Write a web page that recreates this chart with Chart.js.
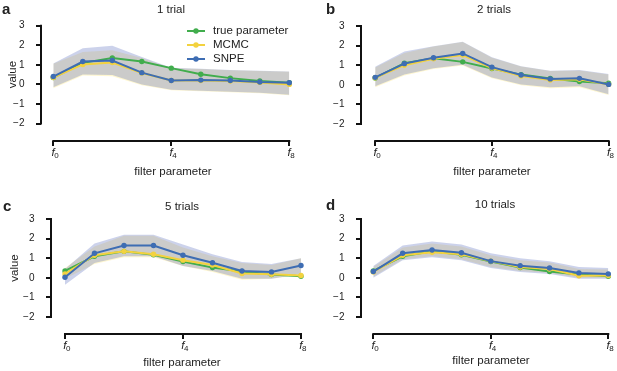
<!DOCTYPE html>
<html>
<head>
<meta charset="utf-8">
<script src="https://cdn.jsdelivr.net/npm/chart.js@4.4.0/dist/chart.umd.min.js"></script>
<style>
  html, body { margin: 0; padding: 0; background: #fff; }
  #wrap { position: relative; width: 617px; height: 371px; overflow: hidden; }
  #wrap canvas { position: absolute; left: 0; top: 0; }
</style>
</head>
<body>
<div id="wrap">
  <canvas id="panelA" width="617" height="371"></canvas>
  <canvas id="panelB" width="617" height="371"></canvas>
  <canvas id="panelC" width="617" height="371"></canvas>
  <canvas id="panelD" width="617" height="371"></canvas>
</div>
<script>
// filter parameter index f0..f8
const filterSteps = [0, 1, 2, 3, 4, 5, 6, 7, 8];
const xTickSteps = [0, 4, 8];
const yTickValues = [-2, -1, 0, 1, 2, 3];
const seriesLabels = ['true parameter', 'MCMC', 'SNPE'];

const trueParameter = [0.35, 1.1, 1.35, 1.17, 0.83, 0.52, 0.32, 0.17, 0.08];

// 1 trial
const mcmc1 = [0.35, 1.02, 1.12, 0.58, 0.2, 0.2, 0.17, 0.1, 0.0];
const snpe1 = [0.4, 1.17, 1.22, 0.6, 0.2, 0.22, 0.2, 0.12, 0.08];
const mcmcLow1 = [-0.2, 0.45, 0.42, -0.05, -0.3, -0.35, -0.4, -0.45, -0.55];
const mcmcHigh1 = [1.05, 1.65, 1.75, 1.35, 0.82, 0.78, 0.72, 0.68, 0.65];
const snpeLow1 = [-0.15, 0.5, 0.48, 0.0, -0.28, -0.33, -0.38, -0.43, -0.53];
const snpeHigh1 = [1.07, 1.85, 1.97, 1.4, 0.85, 0.8, 0.74, 0.7, 0.66];

// 2 trials
const mcmc2 = [0.36, 1.0, 1.33, 1.52, 0.86, 0.45, 0.24, 0.28, 0.02];
const snpe2 = [0.38, 1.08, 1.38, 1.6, 0.9, 0.5, 0.3, 0.33, 0.02];
const mcmcLow2 = [-0.12, 0.48, 0.8, 0.98, 0.33, -0.02, -0.17, -0.12, -0.52];
const mcmcHigh2 = [0.88, 1.62, 1.95, 2.18, 1.38, 0.93, 0.7, 0.73, 0.52];
const snpeLow2 = [-0.08, 0.52, 0.85, 1.02, 0.37, 0.02, -0.12, -0.08, -0.48];
const snpeHigh2 = [0.92, 1.7, 1.97, 2.2, 1.4, 0.95, 0.72, 0.75, 0.55];

// 5 trials
const mcmc5 = [0.2, 1.15, 1.35, 1.2, 0.9, 0.65, 0.22, 0.18, 0.12];
const snpe5 = [0.03, 1.25, 1.65, 1.65, 1.15, 0.77, 0.35, 0.3, 0.63];
const mcmcLow5 = [-0.05, 0.7, 1.05, 1.05, 0.6, 0.3, -0.1, -0.05, 0.15];
const mcmcHigh5 = [0.5, 1.6, 2.15, 2.15, 1.55, 1.1, 0.75, 0.65, 1.0];
const snpeLow5 = [-0.35, 0.75, 1.1, 1.1, 0.6, 0.35, -0.05, -0.05, 0.2];
const snpeHigh5 = [0.45, 1.75, 2.2, 2.2, 1.7, 1.2, 0.8, 0.7, 1.0];

// 10 trials
const mcmc10 = [0.3, 1.15, 1.3, 1.2, 0.85, 0.55, 0.45, 0.1, 0.12];
const snpe10 = [0.32, 1.25, 1.42, 1.28, 0.85, 0.62, 0.5, 0.25, 0.2];
const mcmcLow10 = [0.05, 0.95, 1.1, 0.95, 0.55, 0.35, 0.25, 0.0, 0.0];
const mcmcHigh10 = [0.55, 1.55, 1.75, 1.6, 1.15, 0.9, 0.78, 0.45, 0.42];
const snpeLow10 = [0.0, 0.9, 1.05, 0.9, 0.5, 0.3, 0.2, -0.05, -0.05];
const snpeHigh10 = [0.6, 1.65, 1.85, 1.7, 1.25, 1.0, 0.85, 0.55, 0.5];

const GREEN = '#41ad4d';
const YELLOW = '#f3d23f';
const BLUE = '#3e6db3';
const MCMC_BAND = 'rgba(250, 215, 40, 0.22)';
const SNPE_BAND = 'rgba(85, 105, 190, 0.3)';
const TEXT = '#222';
const FONT = '"Liberation Sans", Arial, sans-serif';

const Y_SCALE_W = 30;
const X_SCALE_H = 20;

function toXY(arr) {
    return arr.map((v, i) => ({ x: filterSteps[i], y: v }));
}

function lineSet(label, values, color, order) {
    return {
        label: label,
        data: toXY(values),
        borderColor: color,
        backgroundColor: color,
        borderWidth: 2,
        pointRadius: 2.7,
        pointBorderWidth: 0,
        pointBackgroundColor: color,
        fill: false,
        tension: 0,
        order: order
    };
}

function bandSets(low, high, color, order) {
    return [
        { label: '', band: true, data: toXY(high), fill: '+1', backgroundColor: color,
          borderWidth: 0, pointRadius: 0, tension: 0, order: order },
        { label: '', band: true, data: toXY(low), fill: false, borderWidth: 0,
          pointRadius: 0, tension: 0, order: order }
    ];
}

// draws spines, tick marks, x tick labels, titles and the legend
const decorPlugin = {
    id: 'decor',
    afterDraw(chart, args, opts) {
        const { ctx, chartArea } = chart;
        const x = chart.scales.x, y = chart.scales.y;
        const left = Math.round(chartArea.left);
        const bottom = Math.round(chartArea.bottom);
        ctx.save();
        ctx.strokeStyle = '#111';
        ctx.lineWidth = 2;
        ctx.beginPath();
        ctx.moveTo(left, y.getPixelForValue(-2) + 1);
        ctx.lineTo(left, y.getPixelForValue(3) - 1);
        yTickValues.forEach(v => {
            const py = Math.round(y.getPixelForValue(v));
            ctx.moveTo(left - 5, py);
            ctx.lineTo(left, py);
        });
        ctx.moveTo(x.getPixelForValue(0) - 1, bottom);
        ctx.lineTo(x.getPixelForValue(8) + 1, bottom);
        xTickSteps.forEach(v => {
            const px = Math.round(x.getPixelForValue(v));
            ctx.moveTo(px, bottom);
            ctx.lineTo(px, bottom + 5);
        });
        ctx.stroke();

        ctx.fillStyle = TEXT;
        ctx.textBaseline = 'middle';
        xTickSteps.forEach(v => {
            const px = x.getPixelForValue(v);
            ctx.font = 'italic 11.5px ' + FONT;
            ctx.textAlign = 'right';
            ctx.fillText('f', px + 1.5, bottom + 12);
            ctx.font = '8px ' + FONT;
            ctx.textAlign = 'left';
            ctx.fillText(String(v), px + 1, bottom + 15);
        });

        ctx.textAlign = 'center';
        ctx.font = '11.5px ' + FONT;
        ctx.fillText(opts.title, opts.titleX, opts.titleY);
        ctx.fillText('filter parameter', opts.xlabelX, opts.xlabelY);

        if (opts.valueX) {
            ctx.save();
            ctx.translate(opts.valueX, (y.getPixelForValue(-2) + y.getPixelForValue(3)) / 2);
            ctx.rotate(-Math.PI / 2);
            ctx.fillText('value', 0, 0);
            ctx.restore();
        }

        ctx.font = 'bold 15px ' + FONT;
        ctx.textAlign = 'left';
        ctx.fillText(opts.letter, opts.letterX, opts.letterY);

        if (opts.legend) {
            const items = chart.data.datasets.filter(d => !d.band);
            items.sort((a, b) => seriesLabels.indexOf(a.label) - seriesLabels.indexOf(b.label));
            items.forEach((d, i) => {
                const ly = opts.legend.y + i * opts.legend.gap;
                ctx.strokeStyle = d.borderColor;
                ctx.lineWidth = 2;
                ctx.beginPath();
                ctx.moveTo(opts.legend.x, ly);
                ctx.lineTo(opts.legend.x + 18, ly);
                ctx.stroke();
                ctx.fillStyle = d.borderColor;
                ctx.beginPath();
                ctx.arc(opts.legend.x + 9, ly, 2.7, 0, Math.PI * 2);
                ctx.fill();
                ctx.fillStyle = TEXT;
                ctx.font = '11.5px ' + FONT;
                ctx.fillText(d.label, opts.legend.x + 26, ly);
            });
        }
        ctx.restore();
    }
};

const panels = [
    { id: 'panelA', title: '1 trial', letter: 'a', mcmc: mcmc1, snpe: snpe1,
      mcmcLow: mcmcLow1, mcmcHigh: mcmcHigh1, snpeLow: snpeLow1, snpeHigh: snpeHigh1,
      spineX: 40.5, f0: 53.3, f8: 289.3, y3: 25.7, ym2: 123.5, spineY: 140.5,
      titleX: 171, titleY: 10, xlabelX: 173, xlabelY: 172, valueX: 13,
      letterX: 2, letterY: 10, legend: { x: 187, y: 31, gap: 14 } },
    { id: 'panelB', title: '2 trials', letter: 'b', mcmc: mcmc2, snpe: snpe2,
      mcmcLow: mcmcLow2, mcmcHigh: mcmcHigh2, snpeLow: snpeLow2, snpeHigh: snpeHigh2,
      spineX: 360.5, f0: 375.3, f8: 610.7, y3: 26, ym2: 124, spineY: 140.5,
      titleX: 494, titleY: 10, xlabelX: 492, xlabelY: 172, valueX: 0,
      letterX: 326, letterY: 10, legend: null },
    { id: 'panelC', title: '5 trials', letter: 'c', mcmc: mcmc5, snpe: snpe5,
      mcmcLow: mcmcLow5, mcmcHigh: mcmcHigh5, snpeLow: snpeLow5, snpeHigh: snpeHigh5,
      spineX: 50.5, f0: 65, f8: 301, y3: 219, ym2: 317, spineY: 333.5,
      titleX: 182, titleY: 207, xlabelX: 182, xlabelY: 363, valueX: 15,
      letterX: 3, letterY: 207, legend: null },
    { id: 'panelD', title: '10 trials', letter: 'd', mcmc: mcmc10, snpe: snpe10,
      mcmcLow: mcmcLow10, mcmcHigh: mcmcHigh10, snpeLow: snpeLow10, snpeHigh: snpeHigh10,
      spineX: 360.5, f0: 373.3, f8: 608.3, y3: 219, ym2: 317, spineY: 333.5,
      titleX: 495, titleY: 205, xlabelX: 491, xlabelY: 361, valueX: 0,
      letterX: 326, letterY: 206, legend: null }
];

panels.forEach(p => {
    const xUnit = (p.f8 - p.f0) / 8;
    const yUnit = (p.ym2 - p.y3) / 5;
    const xMin = -(p.f0 - p.spineX) / xUnit;
    const xMax = 8.15;
    const yMin = -2 - (p.spineY - p.ym2) / yUnit;
    const yMax = 3.15;
    const right = p.f8 + 0.15 * xUnit;
    const top = p.y3 - 0.15 * yUnit;

    const datasets = [
        lineSet(seriesLabels[2], p.snpe, BLUE, 1),
        lineSet(seriesLabels[1], p.mcmc, YELLOW, 2),
        lineSet(seriesLabels[0], trueParameter, GREEN, 3),
        ...bandSets(p.snpeLow, p.snpeHigh, SNPE_BAND, 4),
        ...bandSets(p.mcmcLow, p.mcmcHigh, MCMC_BAND, 5)
    ];

    new Chart(document.getElementById(p.id), {
        type: 'line',
        data: { datasets: datasets },
        options: {
            responsive: false,
            animation: false,
            devicePixelRatio: 1,
            events: [],
            layout: {
                padding: {
                    left: p.spineX - Y_SCALE_W,
                    right: 617 - right,
                    top: top,
                    bottom: 371 - p.spineY - X_SCALE_H
                }
            },
            plugins: {
                legend: { display: false },
                tooltip: { enabled: false },
                decor: {
                    title: p.title, letter: p.letter, titleX: p.titleX, titleY: p.titleY,
                    xlabelX: p.xlabelX, xlabelY: p.xlabelY, valueX: p.valueX,
                    letterX: p.letterX, letterY: p.letterY, legend: p.legend
                }
            },
            scales: {
                x: {
                    type: 'linear',
                    min: xMin,
                    max: xMax,
                    grid: { display: false },
                    border: { display: false },
                    ticks: { display: false },
                    afterBuildTicks: scale => { scale.ticks = xTickSteps.map(v => ({ value: v })); },
                    afterFit: scale => { scale.height = X_SCALE_H; }
                },
                y: {
                    type: 'linear',
                    min: yMin,
                    max: yMax,
                    grid: { display: false },
                    border: { display: false },
                    ticks: {
                        padding: 8,
                        color: TEXT,
                        font: { family: FONT, size: 10 },
                        autoSkip: false,
                        callback: v => (v < 0 ? '\u2212' + Math.abs(v) : String(v))
                    },
                    afterBuildTicks: scale => { scale.ticks = yTickValues.map(v => ({ value: v })); },
                    afterFit: scale => { scale.width = Y_SCALE_W; }
                }
            }
        },
        plugins: [decorPlugin]
    });
});
</script>
</body>
</html>
